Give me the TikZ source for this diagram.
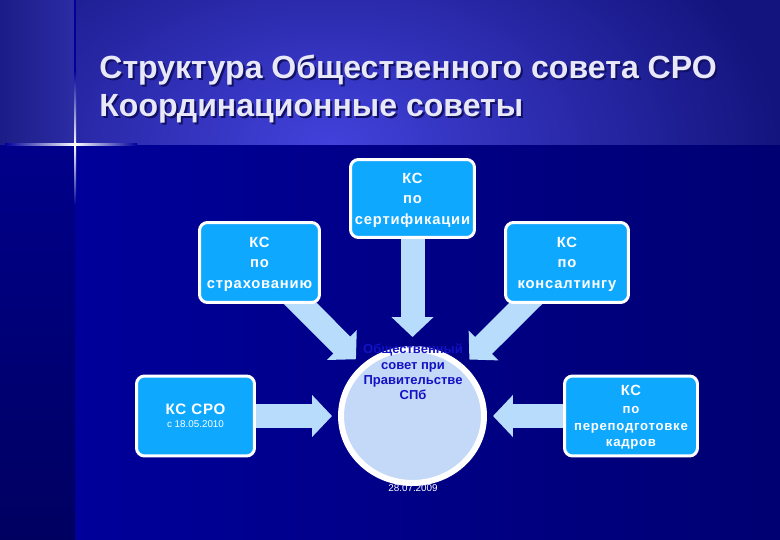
\documentclass[tikz,border=0pt]{standalone}
\usepackage{fontspec}
\setmainfont{Liberation Sans}
\newfontfamily\kcfont[LetterSpace=5.5]{Liberation Sans}
\usetikzlibrary{arrows.meta, backgrounds, shapes.geometric}

\definecolor{nightblue}{HTML}{00009A}
\definecolor{deepblue}{HTML}{000072}
\definecolor{panelcore}{HTML}{4242DC}
\definecolor{paneledge}{HTML}{14147E}
\definecolor{panelleft}{HTML}{1C1C88}
\definecolor{panelmid}{HTML}{2C2CA4}
\definecolor{kcfill}{HTML}{0FA8FF}
\definecolor{kcarrowfill}{HTML}{B8DCFC}
\definecolor{sovetfill}{HTML}{C4D8F8}
\definecolor{sovetink}{HTML}{1212C4}
\definecolor{titleink}{HTML}{E8E8F8}
\definecolor{glow}{HTML}{2C62F0}

\tikzset{
  kcbox/.style={draw=white, fill=kcfill, line width=.06cm, rounded corners=.16cm,
    minimum height=1.6cm, align=center, text=white, inner sep=0pt, text depth=-4pt,
    font=\kcfont\fontsize{8.4}{11.6}\selectfont\bfseries},
  kcarrow/.style={draw=kcarrowfill, line width=.48cm,
    -{Triangle[length=.4cm, width=.82cm, fill=kcarrowfill]}},
  titletext/.style={anchor=north west, align=left, inner sep=0pt,
    font=\fontsize{18.25}{21.6}\selectfont\bfseries}
}

\begin{document}
\begin{tikzpicture}[x=0.02cm, y=-0.02cm]
  \useasboundingbox (0,0) rectangle (780,540);

  % Backdrop
  \begin{pgfonlayer}{background}
    \shade[left color=nightblue, right color=deepblue] (75,0) rectangle (780,540);
    \shade[top color=nightblue, bottom color=deepblue!85!black] (0,0) rectangle (75,540);
    \begin{scope}
      \clip (75,0) rectangle (780,145);
      \shade[inner color=panelcore, outer color=paneledge] (-120,-140) rectangle (780,430);
    \end{scope}
    \shade[left color=panelleft, right color=panelmid] (0,0) rectangle (75,145);

    % Star on the panel corner
    \fill[nightblue] (74,0) rectangle (76,70);
    \shade[top color=nightblue, middle color=glow, bottom color=white] (74,70) rectangle (76,145);
    \shade[top color=white, middle color=glow, bottom color=nightblue] (74,145) rectangle (76,205);
    \shade[left color=nightblue, middle color=glow, right color=white] (5,144) rectangle (75,146);
    \shade[left color=white, middle color=glow, right color=nightblue] (75,144) rectangle (137,146);
  \end{pgfonlayer}

  % Title
  \node[titletext, text=paneledge!80!black] (titleshadow) at (101,57) {Структура Общественного совета СРО\\Координационные советы};
  \node[titletext, text=titleink] (title) at (99,55) {Структура Общественного совета СРО\\Координационные советы};

  % Centre
  \node[ellipse, draw=white, fill=sovetfill, line width=.12cm, minimum width=2.86cm, minimum height=2.68cm] (kcsovet) at (412.5,416) {};
  \node[text=sovetink, align=center, inner sep=0pt, font=\fontsize{7.4}{8.8}\selectfont\bfseries] (sovettext) at (413,372)
    {Общественный\\совет при\\Правительстве\\СПб};
  \node[text=white, inner sep=0pt, font=\fontsize{5.6}{7}\selectfont] (sovetdate) at (413,488) {28.07.2009};

  % Councils
  \node[kcbox, minimum width=2.48cm, minimum height=1.56cm] (kcsert) at (412.5,198.5) {КС\\по\\сертификации};
  \node[kcbox, minimum width=2.4cm] (kcstrakh) at (259.5,262.5) {КС\\по\\страхованию};
  \node[kcbox, minimum width=2.46cm] (kcconsult) at (567,262.5) {КС\\по\\консалтингу};
  \node[kcbox, minimum width=2.36cm] (kcsro) at (195.5,416)
    {{\fontsize{8.6}{11}\selectfont КС СРО}\\[-4pt]{\normalfont\fontsize{5.6}{7}\selectfont с 18.05.2010}};
  \node[kcbox, minimum width=2.66cm, font=\kcfont\fontsize{7.5}{9.4}\selectfont\bfseries] (kcretrain) at (631,416)
    {{\fontsize{8.4}{9.4}\selectfont КС}\\[1pt]по\\переподготовке\\кадров};

  % Block arrows
  \begin{pgfonlayer}{background}
    \foreach \source/\gap in {kcsert/.18cm, kcstrakh/.16cm, kcconsult/.16cm, kcsro/.12cm, kcretrain/.12cm}
      \draw[kcarrow, shorten >=\gap] (\source.center) -- (kcsovet);
  \end{pgfonlayer}
\end{tikzpicture}
\end{document}
